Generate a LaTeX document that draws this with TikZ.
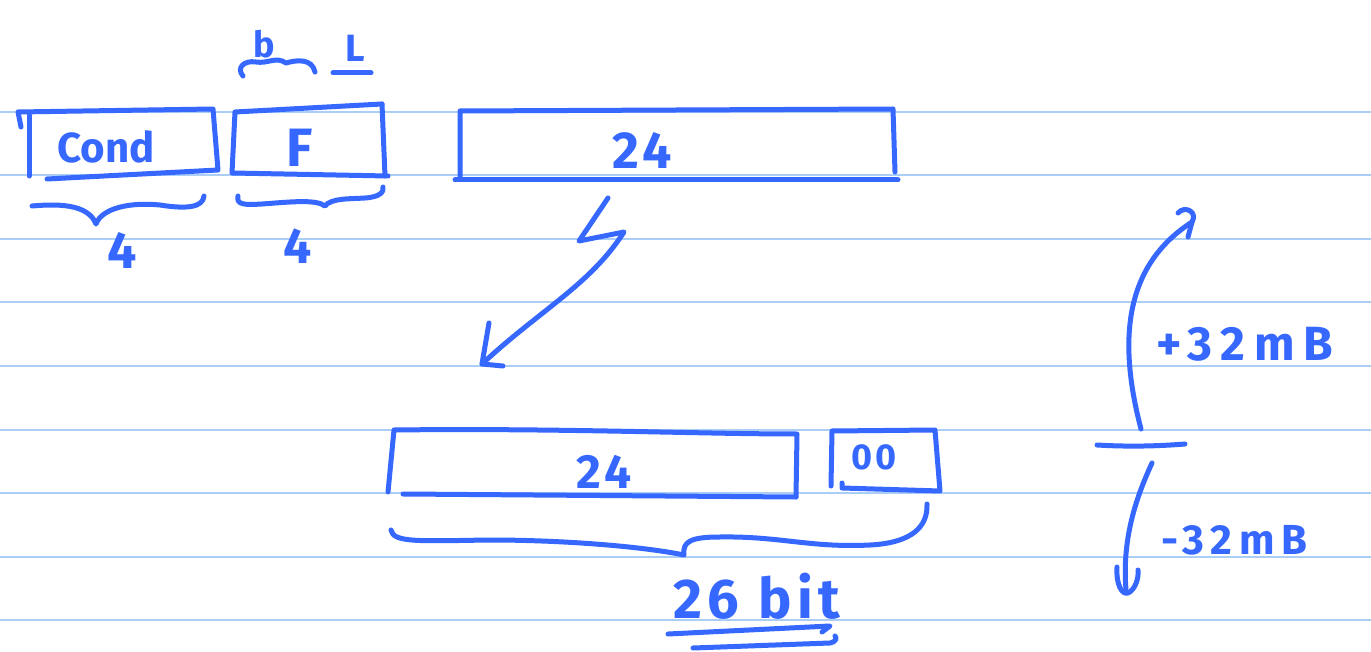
\documentclass[tikz,border=0pt]{standalone}
\usepackage{fontspec}
\setmainfont{Fira Sans}
\definecolor{pen}{RGB}{54,104,255}
\definecolor{ruling}{RGB}{170,206,246}
\tikzset{
  ink/.style={draw=pen, line width=5pt, line cap=round, line join=round},
  rule/.style={draw=ruling, line width=2pt},
  hand/.style={text=pen, inner sep=0pt},
}
\newcommand{\penfs}[1]{\fontsize{#1}{#1}\selectfont\bfseries}
\begin{document}
\begin{tikzpicture}[x=1pt,y=-1pt]
\useasboundingbox (0,0) rectangle (1371,652);
\fill[white] (0,0) rectangle (1371,652);

% ruled paper
\foreach \k in {0,...,8}
  \draw[rule] (0,{112+63.5*\k}) -- (1371,{112+63.5*\k});

% --- instruction word: Cond | F | 24 ---
\draw[ink] (21,127) -- (18,112) -- (213,109) -- (218,170) -- (47,179);
\draw[ink] (29,115) -- (29,176);
\node[hand, font=\penfs{42}] (cond) at (106,147) {Cond};

\draw[ink] (382,104) -- (235,112) -- (232,173) -- (388,176);
\draw[ink] (382,104) -- (385,176);
\node[hand, font=\penfs{54}] (flag) at (300,148) {F};

\draw[ink] (460,178) -- (460,111) -- (893,109) -- (895,172);
\draw[ink] (455,180) -- (898,180);
\node[hand, font=\penfs{52}\addfontfeatures{LetterSpace=8}] (offtop) at (642,150) {24};

% field widths
\draw[ink] (32,206) .. controls (55,204) and (88,203) .. (96,224)
  .. controls (102,208) and (130,202) .. (160,205)
  .. controls (185,209) and (203,208) .. (204,196);
\node[hand, font=\penfs{52}] (wcond) at (122,250) {4};

\draw[ink] (238,196) .. controls (236,205) and (245,205) .. (262,204)
  .. controls (290,202) and (316,199) .. (325,206)
  .. controls (331,198) and (350,199) .. (365,198)
  .. controls (380,197) and (384,192) .. (383,187);
\node[hand, font=\penfs{50}] (wflag) at (298,246) {4};

% b / L above the flag field
\node[hand, font=\penfs{36}] (bee) at (264,44) {b};
\draw[ink] (243,76) .. controls (236,68) and (244,60) .. (256,62)
  .. controls (268,64) and (276,56) .. (286,63)
  .. controls (296,60) and (312,58) .. (315,72);
\node[hand, font=\penfs{38}] (ell) at (355,48) {L};
\coordinate (ul-a) at (333,73);
\coordinate (ul-b) at (371,73);
\draw[ink] (ul-a) -- (ul-b);

% zig-zag arrow down to the shifted offset
\coordinate (bolt-start) at (608,198);
\coordinate (bolt-end) at (482,364);
\draw[ink] (bolt-start) -- (579,241) -- (624,232)
  .. controls (590,285) and (540,310) .. (bolt-end);
\draw[ink] (489,323) -- (bolt-end) -- (503,366);

% --- shifted offset: 24 | 00 ---
\draw[ink] (388,492) -- (394,430) .. controls (560,428) and (700,434) .. (797,434) -- (796,497);
\draw[ink] (403,494) -- (796,497);
\node[hand, font=\penfs{48}\addfontfeatures{LetterSpace=8}] (offlow) at (604,472) {24};

\draw[ink] (842,483) -- (842,488) -- (940,491) -- (935,430) -- (832,431) -- (831,486);
\node[hand, font=\penfs{36}\addfontfeatures{LetterSpace=6}] (zeros) at (874,457) {00};

\draw[ink] (391,530) .. controls (393,543) and (420,541) .. (490,540)
  .. controls (560,540) and (640,546) .. (684,555)
  .. controls (682,541) and (692,537) .. (720,537)
  .. controls (780,536) and (810,548) .. (870,545)
  .. controls (910,543) and (928,528) .. (927,504);
\node[hand, font=\penfs{56}\addfontfeatures{LetterSpace=10}] (total) at (757,596) {26 bit};
\draw[ink] (668,634) -- (830,626) -- (822,632);
\draw[ink] (693,648) -- (830,643) .. controls (836,642) and (837,638) .. (835,636);

% --- branch range ---
\coordinate (mid) at (1141,429);
\coordinate (up-tip) at (1192,222);
\draw[ink] (mid) .. controls (1115,330) and (1130,262) .. (up-tip);
\draw[ink] (1178,213) .. controls (1185,205) and (1198,212) .. (up-tip) -- (1188,237);
\draw[ink] (1097,445) .. controls (1130,447) and (1160,446) .. (1185,444);
\coordinate (low-start) at (1152,463);
\coordinate (down-tip) at (1126,590);
\draw[ink] (low-start) .. controls (1135,500) and (1122,540) .. (down-tip);
\draw[ink] (1117,567) .. controls (1116,585) and (1122,595) .. (1128,593)
  .. controls (1135,590) and (1139,578) .. (1138,570);
\node[hand, font=\penfs{48}\addfontfeatures{LetterSpace=18}, anchor=west] (plus) at (1156,344) {+32mB};
\node[hand, font=\penfs{42}\addfontfeatures{LetterSpace=16}, anchor=west] (minus) at (1161,540) {-32mB};
\end{tikzpicture}
\end{document}
